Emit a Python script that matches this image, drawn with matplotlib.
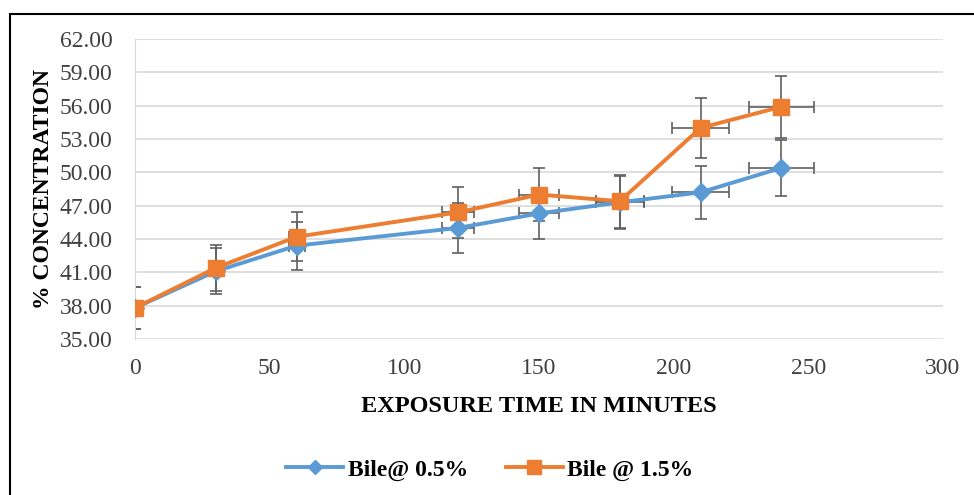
import matplotlib
matplotlib.use("Agg")
import matplotlib.pyplot as plt
from matplotlib.lines import Line2D
from matplotlib.patches import Rectangle
import numpy as np

time_min = [0, 30, 60, 120, 150, 180, 210, 240]
bile_05 = [37.8, 41.1, 43.4, 45.0, 46.3, 47.3, 48.2, 50.4]
bile_15 = [37.8, 41.4, 44.2, 46.4, 48.0, 47.4, 54.0, 55.9]
series_labels = ["Bile@ 0.5%", "Bile @ 1.5%"]
err_pct = 0.05
y_ticks = [35, 38, 41, 44, 47, 50, 53, 56, 59, 62]
x_ticks = [0, 50, 100, 150, 200, 250, 300]

plt.rcParams['font.family'] = ['Liberation Serif', 'DejaVu Serif']

fig = plt.figure(figsize=(9.74, 4.95), dpi=100)
ax = fig.add_axes([135/974, 1-339/495, (943-135)/974, 300/495])

blue = '#5B9BD5'
orange = '#ED7D31'
errc = '#606060'

x = np.array(time_min, dtype=float)
for vals, col, mk, ms in [(bile_05, blue, 'D', 9), (bile_15, orange, 's', 12)]:
    v = np.array(vals)
    ax.errorbar(x, v, yerr=v*err_pct, xerr=x*err_pct, fmt='none', ecolor=errc,
                elinewidth=1.2, capsize=4, capthick=1.2, zorder=2)
    ax.plot(x, v, color=col, lw=2.8, marker=mk, ms=ms, zorder=3)

ax.set_xlim(0, 300)
ax.set_ylim(35, 62)
ax.set_yticks(y_ticks)
ax.set_yticklabels([f"{t:.2f}" for t in y_ticks])
ax.set_xticks(x_ticks)
ax.grid(axis='y', color='#d9d9d9', lw=1.2)
ax.set_axisbelow(True)
for s in ['top', 'right', 'bottom']:
    ax.spines[s].set_visible(False)
ax.spines['left'].set_color('#d9d9d9')
ax.tick_params(length=0, labelsize=17, colors='#404040')
ax.tick_params(axis='y', pad=16)
ax.tick_params(axis='x', pad=14)

ax.set_xlabel("EXPOSURE TIME IN MINUTES", fontsize=17.5, fontweight='bold', labelpad=12)
ax.set_ylabel("% CONCENTRATION", fontsize=17, fontweight='bold', labelpad=4)

handles = [Line2D([], [], color=blue, lw=2.8, marker='D', ms=7),
           Line2D([], [], color=orange, lw=2.8, marker='s', ms=10)]
fig.legend(handles, series_labels, loc='center', bbox_to_anchor=(490/974, 1-470/495),
           ncol=2, frameon=False, prop={'weight': 'bold', 'size': 17},
           handlelength=2.4, columnspacing=1.6, handletextpad=0.2)

fig.patches.append(Rectangle((10/974, -0.01), 1.1, 1-14/495+0.01, transform=fig.transFigure,
                             fill=False, edgecolor='black', lw=1.5))

fig.savefig("out.png", dpi=100)
